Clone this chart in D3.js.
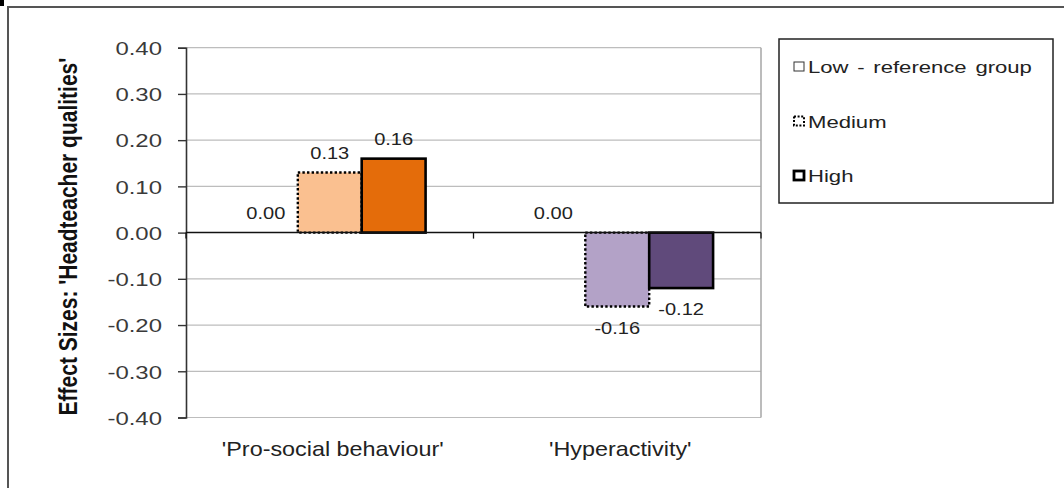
<!DOCTYPE html>
<html>
<head>
<meta charset="utf-8">
<script src="https://cdn.jsdelivr.net/npm/d3@7/dist/d3.min.js"></script>
<style>
  html, body { margin: 0; padding: 0; background: #fff; }
  svg { display: block; font-family: "Liberation Sans", Arial, sans-serif; }
</style>
</head>
<body>
<div id="chart"></div>
<script>
// data
var categories = ["'Pro-social behaviour'", "'Hyperactivity'"];
var seriesNames = ["Low - reference group", "Medium", "High"];
var lowValues = [0.00, 0.00];
var mediumValues = [0.13, -0.16];
var highValues = [0.16, -0.12];
var yTicks = [0.40, 0.30, 0.20, 0.10, 0.00, -0.10, -0.20, -0.30, -0.40];
var mediumColors = ["#fac090", "#b3a2c7"];
var highColors = ["#e46c0a", "#604a7b"];

var width = 1064, height = 488;

// plain hyphen for negatives, like the original
var fmt = function(v) { return d3.format(".2f")(v).replace("\u2212", "-"); };

var svg = d3.select("#chart").append("svg")
  .attr("width", width)
  .attr("height", height);

// outer chart frame
svg.append("rect").attr("x", 0).attr("y", 0).attr("width", 4).attr("height", 6).attr("fill", "#000");
svg.append("line").attr("x1", 7).attr("x2", width).attr("y1", 7).attr("y2", 7)
  .attr("stroke", "#555").attr("stroke-width", 2);
svg.append("line").attr("x1", 8).attr("x2", 8).attr("y1", 7).attr("y2", height)
  .attr("stroke", "#555").attr("stroke-width", 2);

var plot = { left: 186, right: 761, top: 47.7, bottom: 417.5 };

var y = d3.scaleLinear().domain([-0.4, 0.4]).range([plot.bottom, plot.top]);
var x0 = d3.scaleBand().domain(categories).range([plot.left, plot.right]).padding(0);
var x1 = d3.scaleBand().domain(seriesNames).range([0, x0.bandwidth()])
  .paddingInner(0).paddingOuter(0.75);

// gridlines
svg.selectAll(".grid")
  .data(yTicks.filter(function(d) { return d !== 0; }))
  .enter()
  .append("line")
  .attr("class", "grid")
  .attr("x1", plot.left).attr("x2", plot.right)
  .attr("y1", function(d) { return y(d); })
  .attr("y2", function(d) { return y(d); })
  .attr("stroke", "#bdbdbd")
  .attr("stroke-width", 1.2);

// plot area right edge
svg.append("line")
  .attr("x1", plot.right).attr("x2", plot.right)
  .attr("y1", plot.top).attr("y2", plot.bottom)
  .attr("stroke", "#a6a6a6").attr("stroke-width", 1.5);

// y axis
var yAxis = svg.append("g")
  .attr("transform", "translate(" + plot.left + ",0)")
  .call(d3.axisLeft(y).tickValues(yTicks).tickSize(8).tickFormat(fmt));
yAxis.select(".domain").attr("stroke", "#333").attr("stroke-width", 1.6);
yAxis.selectAll(".tick line").attr("stroke", "#333").attr("stroke-width", 1.4);
yAxis.selectAll(".tick text")
  .attr("x", null)
  .attr("transform", "translate(-24,0) scale(1.26,1)")
  .attr("dy", "0.36em")
  .attr("fill", "#3a3a3a")
  .style("font-size", "19px")
  .style("font-family", "'Liberation Sans', Arial, sans-serif");

// y title
svg.append("text")
  .attr("transform", "translate(77," + ((plot.top + plot.bottom) / 2 + 4) + ") scale(1.2,1) rotate(-90)")
  .attr("text-anchor", "middle")
  .attr("font-weight", "bold")
  .attr("font-size", "21px")
  .attr("fill", "#111")
  .text("Effect Sizes: 'Headteacher qualities'");

// bars
var groups = svg.selectAll(".cat")
  .data(categories)
  .enter()
  .append("g")
  .attr("class", "cat")
  .attr("transform", function(d) { return "translate(" + x0(d) + ",0)"; });

var barData = function(c, i) {
  return [
    { s: seriesNames[0], v: lowValues[i], fill: "none", dash: null, sw: 1 },
    { s: seriesNames[1], v: mediumValues[i], fill: mediumColors[i], dash: "2.4,2.2", sw: 2.4 },
    { s: seriesNames[2], v: highValues[i], fill: highColors[i], dash: null, sw: 2.6 }
  ];
};

groups.selectAll("rect")
  .data(barData)
  .enter()
  .append("rect")
  .attr("x", function(d) { return x1(d.s); })
  .attr("width", x1.bandwidth())
  .attr("y", function(d) { return Math.min(y(d.v), y(0)); })
  .attr("height", function(d) { return Math.abs(y(d.v) - y(0)); })
  .attr("fill", function(d) { return d.fill; })
  .attr("stroke", function(d) { return d.v === 0 ? "none" : "#000"; })
  .attr("stroke-width", function(d) { return d.sw; })
  .attr("stroke-dasharray", function(d) { return d.dash; });

// data labels
groups.selectAll(".lbl")
  .data(barData)
  .enter()
  .append("text")
  .attr("class", "lbl")
  .attr("transform", function(d) {
    var cx = x1(d.s) + x1.bandwidth() / 2;
    var cy = d.v >= 0 ? y(d.v) - 20 : y(d.v) + 21;
    return "translate(" + cx + "," + cy + ") scale(1.18,1)";
  })
  .attr("dy", "0.36em")
  .attr("text-anchor", "middle")
  .attr("font-size", "17px")
  .attr("fill", "#222")
  .text(function(d) { return fmt(d.v); });

// x axis at zero
svg.append("line")
  .attr("x1", plot.left).attr("x2", plot.right)
  .attr("y1", y(0)).attr("y2", y(0))
  .attr("stroke", "#111").attr("stroke-width", 1.5);
var catEdges = [plot.left].concat(categories.map(function(c) { return x0(c) + x0.bandwidth(); }));
svg.selectAll(".xtick")
  .data(catEdges)
  .enter()
  .append("line")
  .attr("class", "xtick")
  .attr("x1", function(d) { return d; }).attr("x2", function(d) { return d; })
  .attr("y1", y(0)).attr("y2", y(0) + 6)
  .attr("stroke", "#111").attr("stroke-width", 1.3);

// category labels
svg.selectAll(".catlbl")
  .data(categories)
  .enter()
  .append("text")
  .attr("class", "catlbl")
  .attr("transform", function(d) {
    return "translate(" + (x0(d) + x0.bandwidth() / 2 + 3) + ",449) scale(1.14,1)";
  })
  .attr("dy", "0.36em")
  .attr("text-anchor", "middle")
  .attr("font-size", "20.5px")
  .attr("fill", "#222")
  .text(function(d) { return d; });

// legend
var legend = svg.append("g").attr("transform", "translate(779,39)");
legend.append("rect")
  .attr("width", 274).attr("height", 164)
  .attr("fill", "#fff").attr("stroke", "#222").attr("stroke-width", 1.5);

var legendY = d3.scalePoint().domain(seriesNames).range([28, 137]);
var swatchStyles = [
  { sw: 1, dash: null, stroke: "#333" },
  { sw: 2, dash: "2,1.6", stroke: "#000" },
  { sw: 2.8, dash: null, stroke: "#000" }
];
var items = legend.selectAll(".item")
  .data(seriesNames)
  .enter()
  .append("g")
  .attr("class", "item")
  .attr("transform", function(d) { return "translate(0," + legendY(d) + ")"; });

items.append("rect")
  .attr("x", 15).attr("y", -5)
  .attr("width", 10).attr("height", 9)
  .attr("fill", "#fff")
  .attr("stroke", function(d, i) { return swatchStyles[i].stroke; })
  .attr("stroke-width", function(d, i) { return swatchStyles[i].sw; })
  .attr("stroke-dasharray", function(d, i) { return swatchStyles[i].dash; });

items.append("text")
  .attr("transform", "translate(29,0) scale(1.3,1)")
  .attr("dy", "0.36em")
  .attr("font-size", "17px")
  .attr("fill", "#222")
  .style("word-spacing", "2px")
  .text(function(d) { return d; });
</script>
</body>
</html>
